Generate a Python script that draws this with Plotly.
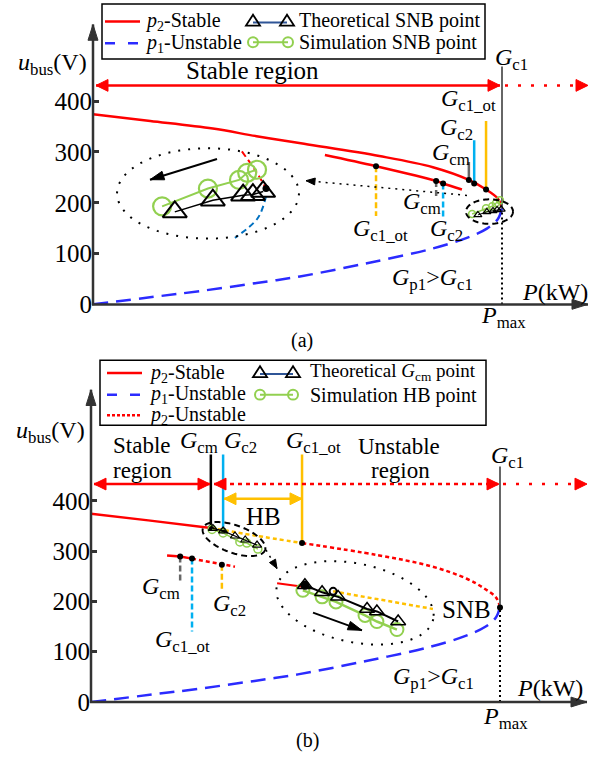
import numpy as np
import plotly.graph_objects as go

W, H = 605, 772
FONT = "Liberation Serif, Times New Roman, serif"
RED, BLUE, YEL, CYAN, GRN, GRAY = "#FF0000", "#2B2BFF", "#FFC000", "#00B0F0", "#92D050", "#666666"

# ---------------- data (P normalised so that Pmax = 10) ----------------
upper_P = [0, 1.4, 2.93, 4.0, 5.16, 7.0, 8.31, 9.19, 9.61, 9.9, 10]
upper_u = [374, 361, 346, 331, 316, 292, 270, 245, 226, 208, 190]
lower_P = [0, 1.5, 2.6, 4.0, 5.06, 6.7, 8.31, 9.14, 9.63, 9.9, 10]
lower_u = [0, 15, 26, 42, 55, 81, 110, 131, 149, 168, 190]
P_max = 10
nose_u = 188
yticks = [0, 100, 200, 300, 400]

# panel (a)
a_inner_P = [5.67, 6.92, 8.39, 8.56, 9.02]
a_inner_u = [294, 272, 243, 238, 226]
a_top_P = [9.19, 9.32, 9.61]          # Gcm, Gc2, Gc1_ot on main curve
a_top_u = [245, 238, 226]
a_top_end = [280, 323, 361]
a_in_P = [6.92, 8.39, 8.56]           # Gc1_ot, Gcm, Gc2 on inner curve
a_in_u = [272, 243, 238]
a_in_end = [174, 213, 170]
a_tri_P = [2.00, 2.93, 3.67, 3.91, 4.16]
a_tri_u = [182, 205, 215, 216, 222]
a_cir_P = [1.69, 2.81, 3.57, 3.77, 4.01]
a_cir_u = [193, 228, 245, 259, 265]
a_zred_P = [3.64, 3.99, 4.23]
a_zred_u = [301, 261, 228]
a_zblue_P = [4.23, 4.03, 3.47]
a_zblue_u = [213, 170, 131]
a_stri_P = [9.41, 9.63, 9.78, 9.88, 9.98]
a_stri_u = [176, 182, 184, 186, 187]
a_scir_P = [9.27, 9.61, 9.76, 9.85, 9.95]
a_scir_u = [178, 189, 193, 199, 205]

# panel (b)
b_top_P = [2.93, 3.23, 5.16]          # Gcm, Gc2, Gc1_ot
b_top_u = [346, 341, 316]
b_top_end = [492, 492, 492]
b_short_P = [1.86, 2.18, 2.47, 3.20, 3.52]
b_short_u = [291, 289, 285, 273, 269]
b_l_P = [2.18, 2.47, 3.20]            # Gcm, Gc1_ot, Gc2
b_l_u = [289, 285, 273]
b_l_end = [238, 140, 224]
b_tri_P = [5.23, 5.65, 6.04, 6.75, 6.99, 7.51]
b_tri_u = [232, 218, 209, 185, 180, 160]
b_cir_P = [5.18, 5.65, 5.99, 6.70, 6.99, 7.48]
b_cir_u = [222, 209, 199, 172, 160, 144]
b_zred_P = [4.55, 5.28]
b_zred_u = [236, 228]
b_zyel_P = [5.92, 8.36]
b_zyel_u = [220, 185]
b_stri_P = [2.98, 3.23, 3.52, 3.77, 4.06]
b_stri_u = [345, 340, 330, 322, 312]
b_scir_P = [2.96, 3.23, 3.64, 3.81, 4.08]
b_scir_u = [343, 336, 318, 316, 304]

# ---------------- helpers ----------------
shapes, annos = [], []
def px(x): return x / W
def py(y): return 1 - y / H

def sline(p0, p1, color, width=2, dash=None):
    ln = dict(color=color, width=width)
    if dash: ln["dash"] = dash
    shapes.append(dict(type="line", xref="paper", yref="paper", x0=px(p0[0]), y0=py(p0[1]),
                       x1=px(p1[0]), y1=py(p1[1]), line=ln))

def poly(pts, color, fill=None, width=1.5, dash=None, close=True):
    path = "M " + " L ".join(f"{px(x):.5f},{py(y):.5f}" for x, y in pts) + (" Z" if close else "")
    ln = dict(color=color, width=width)
    if dash: ln["dash"] = dash
    d = dict(type="path", xref="paper", yref="paper", path=path, line=ln)
    if fill: d["fillcolor"] = fill
    shapes.append(d)

def head(tip, frm, color, L=13, Wd=11):
    dx, dy = tip[0] - frm[0], tip[1] - frm[1]
    n = (dx * dx + dy * dy) ** 0.5; dx /= n; dy /= n
    bx, by = tip[0] - L * dx, tip[1] - L * dy
    nx, ny = -dy, dx
    poly([tip, (bx + nx * Wd / 2, by + ny * Wd / 2), (bx - nx * Wd / 2, by - ny * Wd / 2)], color, fill=color, width=1)

def arrow(p0, p1, color, width=2, dash=None, L=13, Wd=11, both=False):
    sline(p0, p1, color, width, dash)
    head(p1, p0, color, L, Wd)
    if both: head(p0, p1, color, L, Wd)

def ellipse(cx, cy, rx, ry, rot, color, width, dash):
    t = np.linspace(0, 2 * np.pi, 91)
    c, s = np.cos(np.radians(rot)), np.sin(np.radians(rot))
    xs = cx + rx * np.cos(t) * c - ry * np.sin(t) * s
    ys = cy + rx * np.cos(t) * s + ry * np.sin(t) * c
    poly(list(zip(xs, ys)), color, width=width, dash=dash, close=False)

def text(x, y, s, size=24, xa="center", ya="middle"):
    annos.append(dict(xref="paper", yref="paper", x=px(x), y=py(y), text=s, showarrow=False,
                      xanchor=xa, yanchor=ya, font=dict(family=FONT, size=size, color="black")))

def tri_icon(cx, cy):
    poly([(cx, cy - 6), (cx - 7, cy + 5), (cx + 7, cy + 5)], "black", width=1.8)

def cir_icon(cx, cy, r=5):
    shapes.append(dict(type="circle", xref="paper", yref="paper", x0=px(cx - r), x1=px(cx + r),
                       y0=py(cy + r), y1=py(cy - r), line=dict(color=GRN, width=2)))

fig = go.Figure()
def tr(x, y, ax, color="black", width=2, dash=None, mode="lines", shape="linear", marker=None):
    ln = dict(color=color, width=width, shape=shape)
    if dash: ln["dash"] = dash
    kw = dict(x=x, y=y, mode=mode, line=ln, showlegend=False, hoverinfo="skip",
              xaxis="x" if ax == "a" else "x2", yaxis="y" if ax == "a" else "y2", cliponaxis=False)
    if marker: kw["marker"] = marker
    fig.add_trace(go.Scatter(**kw))

dot = dict(color="black", size=6)

# ---------------- panel (a) data marks ----------------
tr(upper_P, upper_u, "a", RED, 2.5, shape="spline")
tr(lower_P, lower_u, "a", BLUE, 2.5, dash="15px,8px", shape="spline")
tr(a_inner_P, a_inner_u, "a", RED, 2.5, shape="spline")
cols = [GRAY, CYAN, YEL]
for P, u, e, c in zip(a_top_P, a_top_u, a_top_end, cols):
    tr([P, P], [u, e], "a", c, 2.5)
tr(a_top_P, a_top_u, "a", mode="markers", marker=dot)
cols = [YEL, GRAY, CYAN]
for P, u, e, c in zip(a_in_P, a_in_u, a_in_end, cols):
    tr([P, P], [u, e], "a", c, 2.5, dash="6px,3px")
tr(a_in_P, a_in_u, "a", mode="markers", marker=dot)
tr([P_max, P_max], [nose_u, 468], "a", GRAY, 2)
tr([P_max, P_max], [0, nose_u - 5], "a", "black", 2, dash="2px,3px")
tr(a_zred_P, a_zred_u, "a", RED, 2, dash="6px,4px", shape="spline")
tr(a_zblue_P, a_zblue_u, "a", "#0070C0", 2, dash="6px,4px", shape="spline")
tr([a_zred_P[-1]], [a_zred_u[-1]], "a", mode="markers", marker=dict(color="black", size=7))
tr(a_cir_P, a_cir_u, "a", GRN, 2, mode="lines+markers",
   marker=dict(symbol="circle-open", size=18, color=GRN, line=dict(width=2.2)))
tr(a_tri_P, a_tri_u, "a", "black", 1.5, mode="lines+markers",
   marker=dict(symbol="triangle-up-open", size=21, color="black", line=dict(width=2)))
tr(a_scir_P, a_scir_u, "a", GRN, 1.5, mode="lines+markers",
   marker=dict(symbol="circle-open", size=7, color=GRN, line=dict(width=1.5)))
tr(a_stri_P, a_stri_u, "a", "black", 1, mode="lines+markers",
   marker=dict(symbol="triangle-up-open", size=7, color="black", line=dict(width=1.2)))

# ---------------- panel (b) data marks ----------------
tr(upper_P[:3], upper_u[:3], "b", RED, 2.5, shape="spline")
tr(upper_P[2:5], upper_u[2:5], "b", YEL, 2.5, dash="4px,3px", shape="spline")
tr(upper_P[4:], upper_u[4:], "b", RED, 2.5, dash="4px,3px", shape="spline")
tr(lower_P, lower_u, "b", BLUE, 2.5, dash="15px,8px", shape="spline")
tr(b_short_P[:3], b_short_u[:3], "b", RED, 2.5)
tr(b_short_P[2:], b_short_u[2:], "b", RED, 2.5, dash="4px,3px")
cols = ["black", CYAN, YEL]
for P, u, e, c in zip(b_top_P, b_top_u, b_top_end, cols):
    tr([P, P], [u, e], "b", c, 2.5)
tr(b_top_P, b_top_u, "b", mode="markers", marker=dot)
cols = [GRAY, CYAN, YEL]
for P, u, e, c in zip(b_l_P, b_l_u, b_l_end, cols):
    tr([P, P], [u, e], "b", c, 2.5, dash="6px,3px")
tr(b_l_P, b_l_u, "b", mode="markers", marker=dot)
tr([P_max, P_max], [nose_u, 468], "b", GRAY, 2)
tr([P_max, P_max], [0, nose_u], "b", "black", 2, dash="2px,3px")
tr([P_max], [nose_u], "b", mode="markers", marker=dot)
tr(b_zred_P, b_zred_u, "b", RED, 2)
tr(b_zyel_P, b_zyel_u, "b", YEL, 2.5, dash="4px,3px")
tr(b_cir_P, b_cir_u, "b", GRN, 2.5, mode="lines+markers",
   marker=dict(symbol="circle-open", size=13, color=GRN, line=dict(width=2)))
tr(b_tri_P, b_tri_u, "b", "black", 2, mode="lines+markers",
   marker=dict(symbol="triangle-up-open", size=13, color="black", line=dict(width=1.5)))
tr([b_tri_P[0]], [b_tri_u[0]], "b", mode="markers", marker=dict(color="black", size=9))
tr([b_zyel_P[0]], [b_zyel_u[0]], "b", mode="markers",
   marker=dict(symbol="circle-open", size=7, color="black", line=dict(width=2)))
tr(b_scir_P, b_scir_u, "b", GRN, 1.5, mode="lines+markers",
   marker=dict(symbol="circle-open", size=8, color=GRN, line=dict(width=1.5)))
tr(b_stri_P, b_stri_u, "b", "black", 1.2, mode="lines+markers",
   marker=dict(symbol="triangle-up-open", size=8, color="black", line=dict(width=1.2)))

# ---------------- decorations: panel (a) ----------------
AX = "#333333"
arrow((93, 311), (93, 25), AX, 2.5, L=16, Wd=10)
arrow((92, 310), (588, 310), AX, 2.5, L=16, Wd=10)
arrow((96, 87), (500, 87), RED, 2.5, L=12, Wd=12, both=True)
arrow((505, 87), (588, 87), RED, 2.5, dash="3px,10px", L=12, Wd=12)
arrow((467, 199), (306, 184), "black", 1.5, dash="2px,5px", L=9, Wd=7)
arrow((217, 162), (150, 183), "black", 2, L=14, Wd=9)
ellipse(208, 197, 91, 46, 0, "black", 2, "2px,8px")
ellipse(489.5, 215.5, 23.5, 12.5, 0, "black", 2, "6px,4px")

# legend (a)
shapes.append(dict(type="rect", xref="paper", yref="paper", x0=px(102), x1=px(485), y0=py(60), y1=py(4),
                   line=dict(color="black", width=1.5)))
sline((105, 22), (140, 22), RED, 2.5)
sline((105, 44), (140, 44), BLUE, 2.5, dash="10px,13px")
sline((253, 23), (287, 23), "#2F5597", 2)
tri_icon(253, 21); tri_icon(287, 21)
sline((253, 43), (288, 43), GRN, 2)
cir_icon(253, 43); cir_icon(288, 43)
text(143, 22, "<i>p</i><sub>2</sub>-Stable", 20, xa="left")
text(143, 44, "<i>p</i><sub>1</sub>-Unstable", 20, xa="left")
text(297, 21, "Theoretical SNB point", 20, xa="left")
text(297, 43, "Simulation SNB point", 20, xa="left")

text(52, 65, "<i>u</i><sub>bus</sub>(V)", 24)
text(252, 72, "Stable region", 25)
text(511, 60, "<i>G</i><sub>c1</sub>", 24)
text(468, 102, "<i>G</i><sub>c1_ot</sub>", 24)
text(457, 131, "<i>G</i><sub>c2</sub>", 24)
text(451, 157, "<i>G</i><sub>cm</sub>", 24)
text(422, 207, "<i>G</i><sub>cm</sub>", 24)
text(380, 234, "<i>G</i><sub>c1_ot</sub>", 24)
text(446, 234, "<i>G</i><sub>c2</sub>", 24)
text(432, 284, "<i>G</i><sub>p1</sub>&gt;<i>G</i><sub>c1</sub>", 24)
text(555, 297, "<i>P</i>(kW)", 24)
text(503, 323, "<i>P</i><sub>max</sub>", 24)
text(302, 347, "(a)", 20)

# ---------------- decorations: panel (b) ----------------
arrow((91, 716), (91, 397), AX, 2.5, L=16, Wd=10)
arrow((90, 715), (587, 715), AX, 2.5, L=16, Wd=10)
arrow((94, 493), (210, 493), RED, 2.5, L=12, Wd=12, both=True)
arrow((214, 493), (499, 493), RED, 2.5, dash="4px,4px", L=12, Wd=12, both=True)
arrow((503, 493), (587, 493), RED, 2.5, dash="3px,10px", L=12, Wd=12)
arrow((224, 508), (302, 508), YEL, 2.5, L=12, Wd=12, both=True)
arrow((266, 560), (277, 579), "black", 1.5, dash="2px,5px", L=9, Wd=7)
arrow((313, 624), (362, 642), "black", 2, L=14, Wd=9)
ellipse(234, 549, 33, 14, 20, "black", 2, "6px,4px")
ellipse(355, 614, 80, 40, 12, "black", 2, "2px,8px")

# legend (b)
shapes.append(dict(type="rect", xref="paper", yref="paper", x0=px(100), x1=px(486), y0=py(433), y1=py(367),
                   line=dict(color="black", width=1.5)))
sline((107, 380), (142, 380), RED, 2.5)
sline((107, 402), (142, 402), BLUE, 2.5, dash="10px,13px")
sline((107, 423), (142, 423), RED, 2.5, dash="3px,2px")
sline((260, 381), (293, 381), "#2F5597", 2)
tri_icon(260, 379); tri_icon(293, 379)
sline((260, 402), (293, 402), GRN, 2)
cir_icon(260, 402); cir_icon(293, 402)
text(147, 380, "<i>p</i><sub>2</sub>-Stable", 20, xa="left")
text(147, 402, "<i>p</i><sub>1</sub>-Unstable", 20, xa="left")
text(147, 423, "<i>p</i><sub>2</sub>-Unstable", 20, xa="left")
text(308, 379, "Theoretical <i>G</i><sub>cm</sub> point", 19, xa="left")
text(308, 403, "Simulation HB point", 20, xa="left")

text(51, 440, "<i>u</i><sub>bus</sub>(V)", 24)
text(142, 454, "Stable", 23)
text(142, 479, "region", 23)
text(399, 455, "Unstable", 23)
text(400, 479, "region", 23)
text(199, 450, "<i>G</i><sub>cm</sub>", 24)
text(240, 450, "<i>G</i><sub>c2</sub>", 24)
text(313, 450, "<i>G</i><sub>c1_ot</sub>", 24)
text(507, 465, "<i>G</i><sub>c1</sub>", 24)
text(263, 526, "HB", 25)
text(161, 599, "<i>G</i><sub>cm</sub>", 24)
text(229, 616, "<i>G</i><sub>c2</sub>", 24)
text(182, 653, "<i>G</i><sub>c1_ot</sub>", 24)
text(466, 621, "SNB", 25)
text(433, 691, "<i>G</i><sub>p1</sub>&gt;<i>G</i><sub>c1</sub>", 24)
text(550, 701, "<i>P</i>(kW)", 24)
text(505, 731, "<i>P</i><sub>max</sub>", 24)
text(308, 754, "(b)", 20)

yax = dict(showgrid=False, zeroline=False, showline=False, ticks="inside", ticklen=6, tickwidth=2.5,
           tickcolor=AX, tickvals=yticks, tickfont=dict(family=FONT, size=25, color="black"))
xax = dict(showgrid=False, zeroline=False, showline=False, showticklabels=False, ticks="")
fig.update_layout(
    width=W, height=H, margin=dict(l=0, r=0, t=0, b=0),
    paper_bgcolor="white", plot_bgcolor="rgba(0,0,0,0)",
    xaxis=dict(xax, domain=[93 / W, 588 / W], range=[0, (588 - 93) / 40.9]),
    yaxis=dict(yax, domain=[(H - 310) / H, (H - 25) / H], range=[0, (310 - 25) / 0.5175], anchor="x"),
    xaxis2=dict(xax, domain=[91 / W, 587 / W], range=[0, (587 - 91) / 40.9], anchor="y2"),
    yaxis2=dict(yax, domain=[(H - 715) / H, (H - 397) / H], range=[0, (715 - 397) / 0.5125], anchor="x2"),
    shapes=shapes, annotations=annos, showlegend=False,
)
fig.write_html("out.html")
